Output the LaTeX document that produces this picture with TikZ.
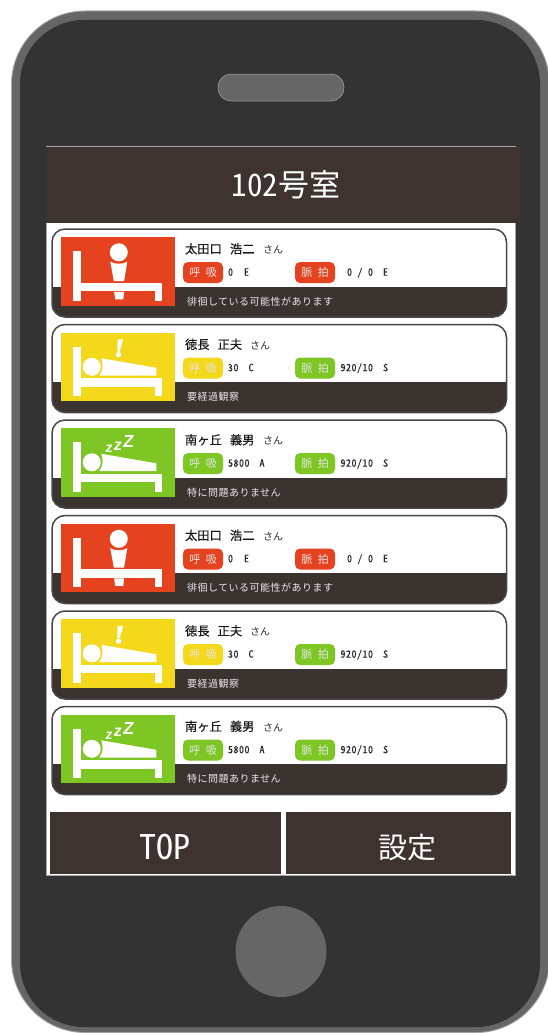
\documentclass[tikz,border=0pt]{standalone}
\usepackage{fontspec}
\setmainfont{Noto Sans CJK JP}[RawFeature={+hwid}]
\newfontfamily\zfont{Liberation Sans}
\definecolor{phone}{HTML}{333333}
\definecolor{rim}{HTML}{666666}
\definecolor{rimlight}{HTML}{A8A8A8}
\definecolor{headbrown}{HTML}{3E332E}
\definecolor{bandbrown}{HTML}{3A3330}
\definecolor{alertred}{HTML}{E5431F}
\definecolor{warnyellow}{HTML}{F4D81B}
\definecolor{okgreen}{HTML}{7DC623}
\tikzset{
  x=1pt,y=-1pt,
  txt/.style={inner sep=0,outer sep=0,anchor=base west},
  pill/.style={fill=#1,rounded corners=5pt,draw=none},
  pname/.style={txt,font=\fontsize{12.3}{12.3}\selectfont\addfontfeature{FakeBold=0.3},text=black!90},
  san/.style={txt,font=\fontsize{10}{10}\selectfont,text=black!85},
  val/.style={txt,font=\fontsize{10}{10}\selectfont\addfontfeature{LetterSpace=5,FakeBold=0.2},text=black!85},
  msg/.style={txt,font=\fontsize{10}{10}\selectfont\addfontfeature{LetterSpace=5},text=white!92!black},
  pilltext/.style={inner sep=0,outer sep=0,anchor=base,font=\fontsize{11}{11}\selectfont,text=white!90!black},
  big/.style={inner sep=0,outer sep=0,text=white},
  zz/.style={inner sep=0,outer sep=0,text=white,anchor=center,xslant=0.12},
}
% bed frame shared by all icons (origin at icon top-left)
\newcommand{\bedframe}{%
  \fill[white] (12,14) rectangle (19.5,63.5);
  \fill[white] (12,45.5) rectangle (100.5,54);
  \fill[white] (93.5,45.5) rectangle (100.5,63.5);
}
\newcommand{\iconup}[1]{% standing person
  \bedframe
  \fill[white] (57.5,15) circle[radius=9];
  \fill[white] (49,24.3) .. controls (53,27.2) and (62,27.2) .. (66,24.3) -- (62.8,43.8) -- (52.5,43.8) -- cycle;
  \fill[white] (52.8,54.6) -- (62.8,54.6) -- (62,62) -- (54,62) -- cycle;
}
\newcommand{\iconbody}[1]{% lying person
  \bedframe
  \fill[white] (30.5,34) circle[radius=9];
  \fill[white] (40,25.5) .. controls (42,31) and (42,38) .. (38,42.7) -- (95,42.7) -- (95,35) -- cycle;
}
\newcommand{\iconwarn}[1]{%
  \iconbody{#1}
  \fill[white] (56.3,6.5) -- (61.8,6.5) -- (58.4,19) -- (56,19) -- cycle;
  \fill[white] (57.2,21.9) circle[radius=2.7];
}
\newcommand{\iconsleep}[1]{%
  \iconbody{#1}
  \node[zz,font=\zfont\bfseries\fontsize{14}{14}\selectfont] (#1-z1) at (47.7,20.7) {z};
  \node[zz,font=\zfont\bfseries\fontsize{16}{16}\selectfont] (#1-z2) at (56.5,17.5) {z};
  \node[zz,font=\zfont\bfseries\fontsize{17.5}{17.5}\selectfont] (#1-z3) at (67.3,13.2) {Z};
}
% #1 id, #2 top, #3 colour, #4 icon macro, #5 name, #6 breath, #7 pulse, #8 message, #9 right end of "san"
\newcommand{\patient}[9]{%
  \begin{scope}[shift={(52,#2)}]
    \fill[white,rounded corners=13pt] (0,0) rectangle (454.5,88);
    \begin{scope}
      \clip[rounded corners=13pt] (0,0) rectangle (454.5,88);
      \fill[bandbrown] (0,57.5) rectangle (454.5,88);
    \end{scope}
    \draw[line width=1.5pt,rim!70!black,rounded corners=13pt] (0,0) rectangle (454.5,88);
    \begin{scope}[shift={(9.3,8.3)}]
      \fill[#3] (0,0) rectangle (113.7,68.5);
      #4{#1}
    \end{scope}
    \node[pname] (#1-name) at (133,24.5) {#5};
    \node[san,anchor=base east] (#1-san) at (#9,24.5) {さん};
    \path[pill=#3] (131,33) rectangle (171,54);
    \coordinate (#1-b) at (151,47.5);
    \node[pilltext] (#1-blabel) at (#1-b) {呼\hspace{5.5pt}吸};
    \node[val] (#1-bval) at (176,46.7) {#6};
    \path[pill=\pulsecol] (243,33) rectangle (283,54);
    \coordinate (#1-p) at (263,47.5);
    \node[pilltext] (#1-plabel) at (#1-p) {脈\hspace{5.5pt}拍};
    \node[val,anchor=base east] (#1-pval) at (336,46.7) {#7};
    \node[msg] (#1-msg) at (135,76) {#8};
  \end{scope}
}
\begin{document}
\begin{tikzpicture}
\useasboundingbox (0,0) rectangle (548,1033);
\fill[white] (0,0) rectangle (548,1033);
% phone body
\begin{scope}
\clip (0,0) rectangle (548,1033);
\fill[rimlight,rounded corners=74pt] (11,10.5) rectangle (550,1033);
\fill[rim,rounded corners=73pt] (12,11.5) rectangle (549,1032);
\fill[phone,rounded corners=64pt] (20,20) rectangle (540,1027);
\end{scope}
\path[fill=rim,draw=rimlight,line width=.5pt,rounded corners=13pt] (218,74) rectangle (344,101);
\fill[rim] (281,951.5) circle[radius=45.5];
% screen
\fill[rimlight] (46,146) rectangle (515.5,876);
\fill[white] (47,147) rectangle (515,875);
\fill[headbrown] (45.5,147) rectangle (520,223);
\node[big,font=\fontsize{31}{31}\selectfont] (title) at (286,185) {102号室};
% cards
\def\pulsecol{alertred}
\patient{a}{229}{alertred}{\iconup}{太田口\hspace{8pt}浩二}{0\hspace{11pt}E}{0 / 0\hspace{10pt}E}{徘徊している可能性があります}{231}
\def\pulsecol{okgreen}
\patient{b}{324.5}{warnyellow}{\iconwarn}{徳長\hspace{8pt}正夫}{30\hspace{10pt}C}{920/10\hspace{10pt}S}{要経過観察}{218}
\patient{c}{420}{okgreen}{\iconsleep}{南ヶ丘\hspace{8pt}義男}{5800\hspace{10pt}A}{920/10\hspace{10pt}S}{特に問題ありません}{231}
\def\pulsecol{alertred}
\patient{d}{515.5}{alertred}{\iconup}{太田口\hspace{8pt}浩二}{0\hspace{11pt}E}{0 / 0\hspace{10pt}E}{徘徊している可能性があります}{231}
\def\pulsecol{okgreen}
\patient{e}{611}{warnyellow}{\iconwarn}{徳長\hspace{8pt}正夫}{30\hspace{10pt}C}{920/10\hspace{10pt}S}{要経過観察}{218}
\patient{f}{706.5}{okgreen}{\iconsleep}{南ヶ丘\hspace{8pt}義男}{5800\hspace{10pt}A}{920/10\hspace{10pt}S}{特に問題ありません}{231}
% buttons
\fill[headbrown] (50,812) rectangle (281,874);
\fill[headbrown] (286,812) rectangle (511,874);
\node[big,font=\fontsize{34}{34}\selectfont] (top) at (165,847) {TOP};
\node[big,font=\fontsize{29}{29}\selectfont] (settings) at (407.5,848) {設定};
\end{tikzpicture}
\end{document}
